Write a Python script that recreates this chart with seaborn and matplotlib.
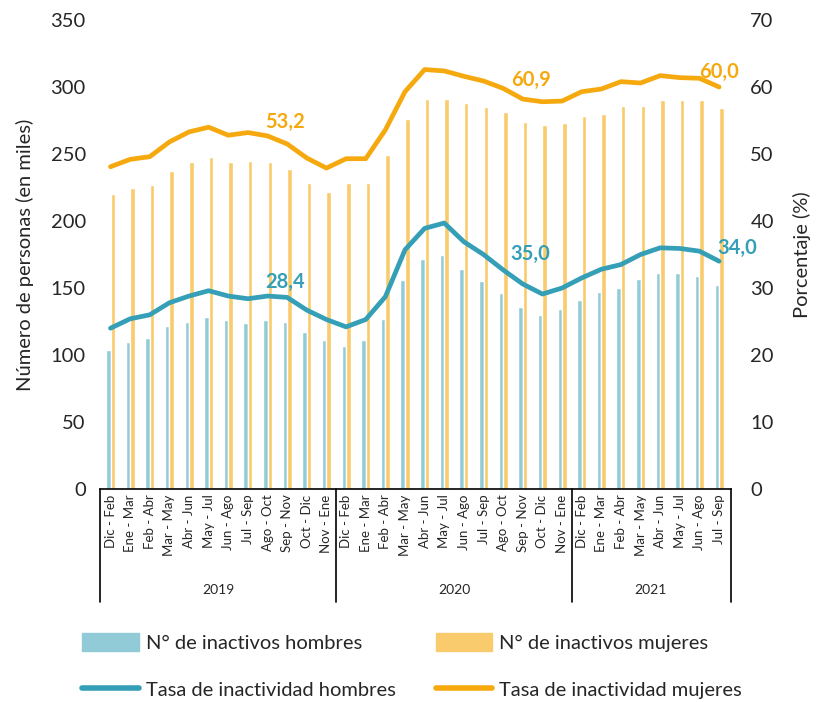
import pandas as pd
import matplotlib.pyplot as plt
import matplotlib.lines as mlines
import matplotlib.patches as mpatches
import matplotlib.transforms as mtransforms
import seaborn as sns

# periods (moving quarters) and years
periods = ['Dic - Feb', 'Ene - Mar', 'Feb - Abr', 'Mar - May', 'Abr - Jun', 'May - Jul',
           'Jun - Ago', 'Jul - Sep', 'Ago - Oct', 'Sep - Nov', 'Oct - Dic', 'Nov - Ene'] * 2 + \
          ['Dic - Feb', 'Ene - Mar', 'Feb - Abr', 'Mar - May', 'Abr - Jun', 'May - Jul',
           'Jun - Ago', 'Jul - Sep']
years = ['2019', '2020', '2021']
year_sizes = [12, 12, 8]

# inactive people (thousands)
inactivos_hombres = [104, 110, 113, 122, 125, 128, 126, 124, 126, 125, 117, 111,
                     107, 111, 127, 156, 172, 175, 164, 155, 146, 136, 130, 134,
                     141, 147, 150, 157, 161, 161, 159, 152]
inactivos_mujeres = [220, 225, 227, 237, 244, 248, 244, 245, 244, 239, 228, 222,
                     228, 228, 249, 276, 291, 291, 288, 285, 281, 274, 272, 273,
                     278, 280, 286, 286, 290, 290, 290, 284]

# inactivity rate (%)
tasa_hombres = [24.0, 25.4, 26.0, 27.8, 28.8, 29.6, 28.8, 28.4, 28.8, 28.6, 26.7, 25.3,
                24.2, 25.3, 28.7, 35.7, 38.9, 39.7, 36.9, 35.0, 32.7, 30.6, 29.1, 30.0,
                31.5, 32.8, 33.5, 35.0, 36.0, 35.9, 35.5, 34.0]
tasa_mujeres = [48.1, 49.2, 49.6, 51.8, 53.3, 54.0, 52.8, 53.2, 52.7, 51.5, 49.4, 47.9,
                49.3, 49.3, 53.6, 59.3, 62.6, 62.4, 61.6, 60.9, 59.8, 58.2, 57.8, 57.9,
                59.3, 59.7, 60.8, 60.6, 61.7, 61.4, 61.3, 60.0]

# labelled points (index of Jul - Sep each year)
label_idx = [7, 19, 31]

c_bar_h = '#92CBD8'
c_bar_m = '#F9CB6C'
c_line_h = '#349FB6'
c_line_m = '#F5A90F'

sns.set_style("white")
plt.rcParams['font.family'] = ['Lato', 'DejaVu Sans']

fig = plt.figure(figsize=(8.24, 7.02), dpi=100)
ax = fig.add_axes([0.121, 0.3034, 0.766, 0.6681])

n = len(periods)
x_keys = [str(i) for i in range(n)]
df = pd.DataFrame({
    'x': x_keys * 2,
    'valor': inactivos_hombres + inactivos_mujeres,
    'serie': ['N° de inactivos hombres'] * n + ['N° de inactivos mujeres'] * n,
})
sns.barplot(data=df, x='x', y='valor', hue='serie', order=x_keys,
            palette=[c_bar_h, c_bar_m], width=0.46, gap=0.0, ax=ax, legend=False,
            saturation=1)

ax.set_xlim(-0.55, n - 0.4)
ax.set_ylim(0, 350)
ax.set_yticks(range(0, 351, 50))
ax.tick_params(axis='y', labelsize=14.5, length=0, pad=10)
ax.set_xticks(range(n))
ax.set_xticklabels(periods, rotation=90, fontsize=9.5)
ax.tick_params(axis='x', length=0, pad=4)
ax.set_xlabel('')
ax.set_ylabel('Número de personas (en miles)', fontsize=14.5, labelpad=12)
for s in ['top', 'left', 'right']:
    ax.spines[s].set_visible(False)
ax.spines['bottom'].set_color('black')
ax.spines['bottom'].set_linewidth(1.2)

# rate lines on right axis
ax2 = ax.twinx()
pos = list(range(n))
sns.lineplot(x=pos, y=tasa_hombres, color=c_line_h, linewidth=3.4, ax=ax2)
sns.lineplot(x=pos, y=tasa_mujeres, color=c_line_m, linewidth=3.4, ax=ax2)
ax2.set_ylim(0, 70)
ax2.set_yticks(range(0, 71, 10))
ax2.tick_params(axis='y', labelsize=14.5, length=0, pad=14)
ax2.set_ylabel('Porcentaje (%)', fontsize=14.5, labelpad=14)
for s in ['top', 'left', 'right', 'bottom']:
    ax2.spines[s].set_visible(False)

# data labels
offsets_m = [(1.9, 1.6), (2.4, 0.1), (0.0, 2.2)]
offsets_h = [(1.9, 2.5), (2.4, 0.1), (0.9, 2.0)]
for i, (dx, dy) in zip(label_idx, offsets_m):
    ax2.text(i + dx, tasa_mujeres[i] + dy, f'{tasa_mujeres[i]:.1f}'.replace('.', ','),
             color=c_line_m, fontsize=14.5, fontweight='bold', ha='center', va='center')
for i, (dx, dy) in zip(label_idx, offsets_h):
    ax2.text(i + dx, tasa_hombres[i] + dy, f'{tasa_hombres[i]:.1f}'.replace('.', ','),
             color=c_line_h, fontsize=14.5, fontweight='bold', ha='center', va='center')

# multi-level category axis: year separators and year labels
trans = mtransforms.blended_transform_factory(ax.transData, ax.transAxes)
bounds = [-0.55]
start = 0
for yr, size in zip(years, year_sizes):
    end = start + size
    ax.text((start + end - 1) / 2, -0.215, yr, transform=trans, ha='center',
            va='center', fontsize=10)
    bounds.append(end - 0.5 if end < n else n - 0.4)
    start = end
for b in bounds:
    ax.plot([b, b], [0, -0.241], transform=trans, color='black', linewidth=1.2,
            clip_on=False)

# legend below
handles = [
    mpatches.Patch(color=c_bar_h, label='N° de inactivos hombres'),
    mlines.Line2D([], [], color=c_line_h, linewidth=4, label='Tasa de inactividad hombres'),
    mpatches.Patch(color=c_bar_m, label='N° de inactivos mujeres'),
    mlines.Line2D([], [], color=c_line_m, linewidth=4, label='Tasa de inactividad mujeres'),
]
fig.legend(handles=handles, ncol=2, loc='lower center', bbox_to_anchor=(0.5, -0.022),
           frameon=False, fontsize=14.5, handlelength=2.8, handleheight=1.0,
           columnspacing=2.0, labelspacing=1.4, handletextpad=0.35)

plt.savefig('out.png', dpi=100)
